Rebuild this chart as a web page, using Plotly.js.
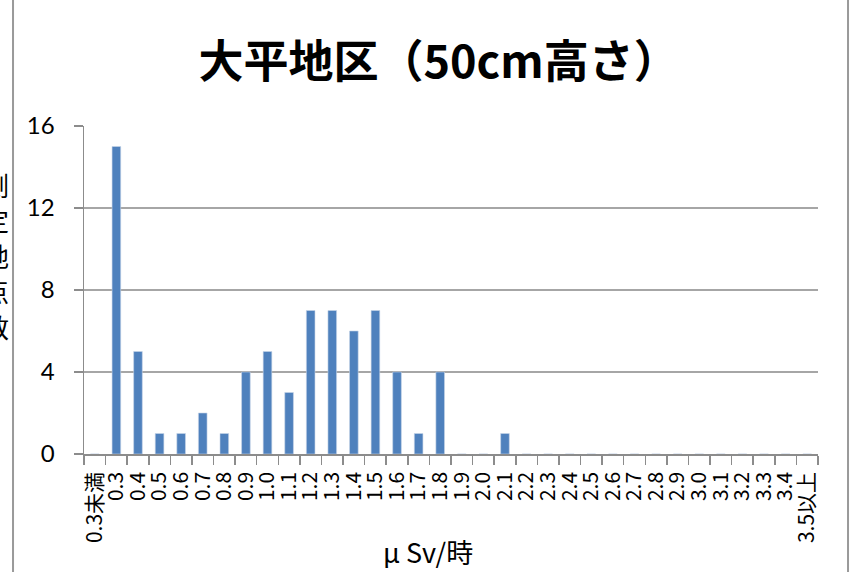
<!DOCTYPE html>
<html><head><meta charset="utf-8">
<script src="https://cdn.plot.ly/plotly-3.0.1.min.js"></script>
<style>html,body{margin:0;padding:0;background:#fff;}#chart{width:855px;height:572px;}</style>
</head><body><div id="chart"></div>
<script>
const categories = ["0.3未満","0.3","0.4","0.5","0.6","0.7","0.8","0.9","1.0","1.1","1.2","1.3","1.4","1.5","1.6","1.7","1.8","1.9","2.0","2.1","2.2","2.3","2.4","2.5","2.6","2.7","2.8","2.9","3.0","3.1","3.2","3.3","3.4","3.5以上"];
const counts = [0,15,5,1,1,2,1,4,5,3,7,7,6,7,4,1,4,0,0,1,0,0,0,0,0,0,0,0,0,0,0,0,0,0];
const yTicks = [0,4,8,12,16];
const chartTitle = "大平地区（50cm高さ）";
const xTitle = "μ Sv/時";
const yTitleChars = ["測","定","地","点","数"];

const trace = {
  type: "bar", x: categories, y: counts,
  marker: {color: "#4f81bd", line: {color: "#c7d5e8", width: 0.6}},
  hoverinfo: "x+y"
};
const plotH = 572 - 126 - 118;
const yTitleAnn = yTitleChars.map((c, i) => ({
  text: c, xref: "paper", yref: "paper",
  x: (-4 - 84) / 734, y: (454 - (184 + i * 35.5)) / plotH,
  xanchor: "center", yanchor: "middle", showarrow: false,
  font: {family: "Noto Sans CJK JP", size: 26, color: "#000"}
}));
const layout = {
  width: 855, height: 572,
  margin: {l: 84, r: 37, t: 126, b: 118},
  paper_bgcolor: "#fff", plot_bgcolor: "#fff",
  bargap: 0.6,
  showlegend: false,
  title: {text: chartTitle, x: 0.513, xanchor: "center", y: 0.891, yanchor: "middle",
          font: {family: "Noto Sans CJK JP", size: 45, color: "#000", weight: 700}},
  xaxis: {
    type: "category", tickmode: "array", tickvals: categories, ticktext: categories,
    tickangle: -90, ticks: "outside", tickson: "boundaries",
    ticklen: 9, tickcolor: "#8c8c8c", tickwidth: 1.5, ticklabelstandoff: 8,
    showline: true, linecolor: "#8c8c8c", linewidth: 1.5,
    showgrid: false, automargin: false,
    tickfont: {family: "Noto Sans CJK JP", size: 21, color: "#000"}
  },
  yaxis: {
    range: [0, 16], tickvals: yTicks, ticks: "outside", ticklen: 9,
    tickcolor: "#8c8c8c", tickwidth: 1.5, ticklabelstandoff: 14,
    showline: true, linecolor: "#8c8c8c", linewidth: 1.5,
    showgrid: true, gridcolor: "#a6a6a6", gridwidth: 1.5,
    zeroline: false, automargin: false,
    tickfont: {family: "Lato, Liberation Sans", size: 24, color: "#000"}
  },
  annotations: yTitleAnn.concat([{
    text: xTitle, xref: "paper", yref: "paper",
    x: (428 - 84) / 734, y: (454 - 551) / plotH,
    xanchor: "center", yanchor: "middle", showarrow: false,
    font: {family: "Noto Sans CJK JP", size: 27, color: "#000"}
  }]),
  shapes: [
    {type: "line", xref: "paper", yref: "paper", x0: -0.0967, x1: -0.0967, y0: -0.5, y1: 1.6,
     line: {color: "#9a9a9a", width: 2}},
    {type: "line", xref: "paper", yref: "paper", x0: 1.0409, x1: 1.0409, y0: -0.5, y1: 1.6,
     line: {color: "#9a9a9a", width: 2}}
  ]
};
Plotly.newPlot("chart", [trace], layout, {displayModeBar: false, staticPlot: true});
</script></body></html>
